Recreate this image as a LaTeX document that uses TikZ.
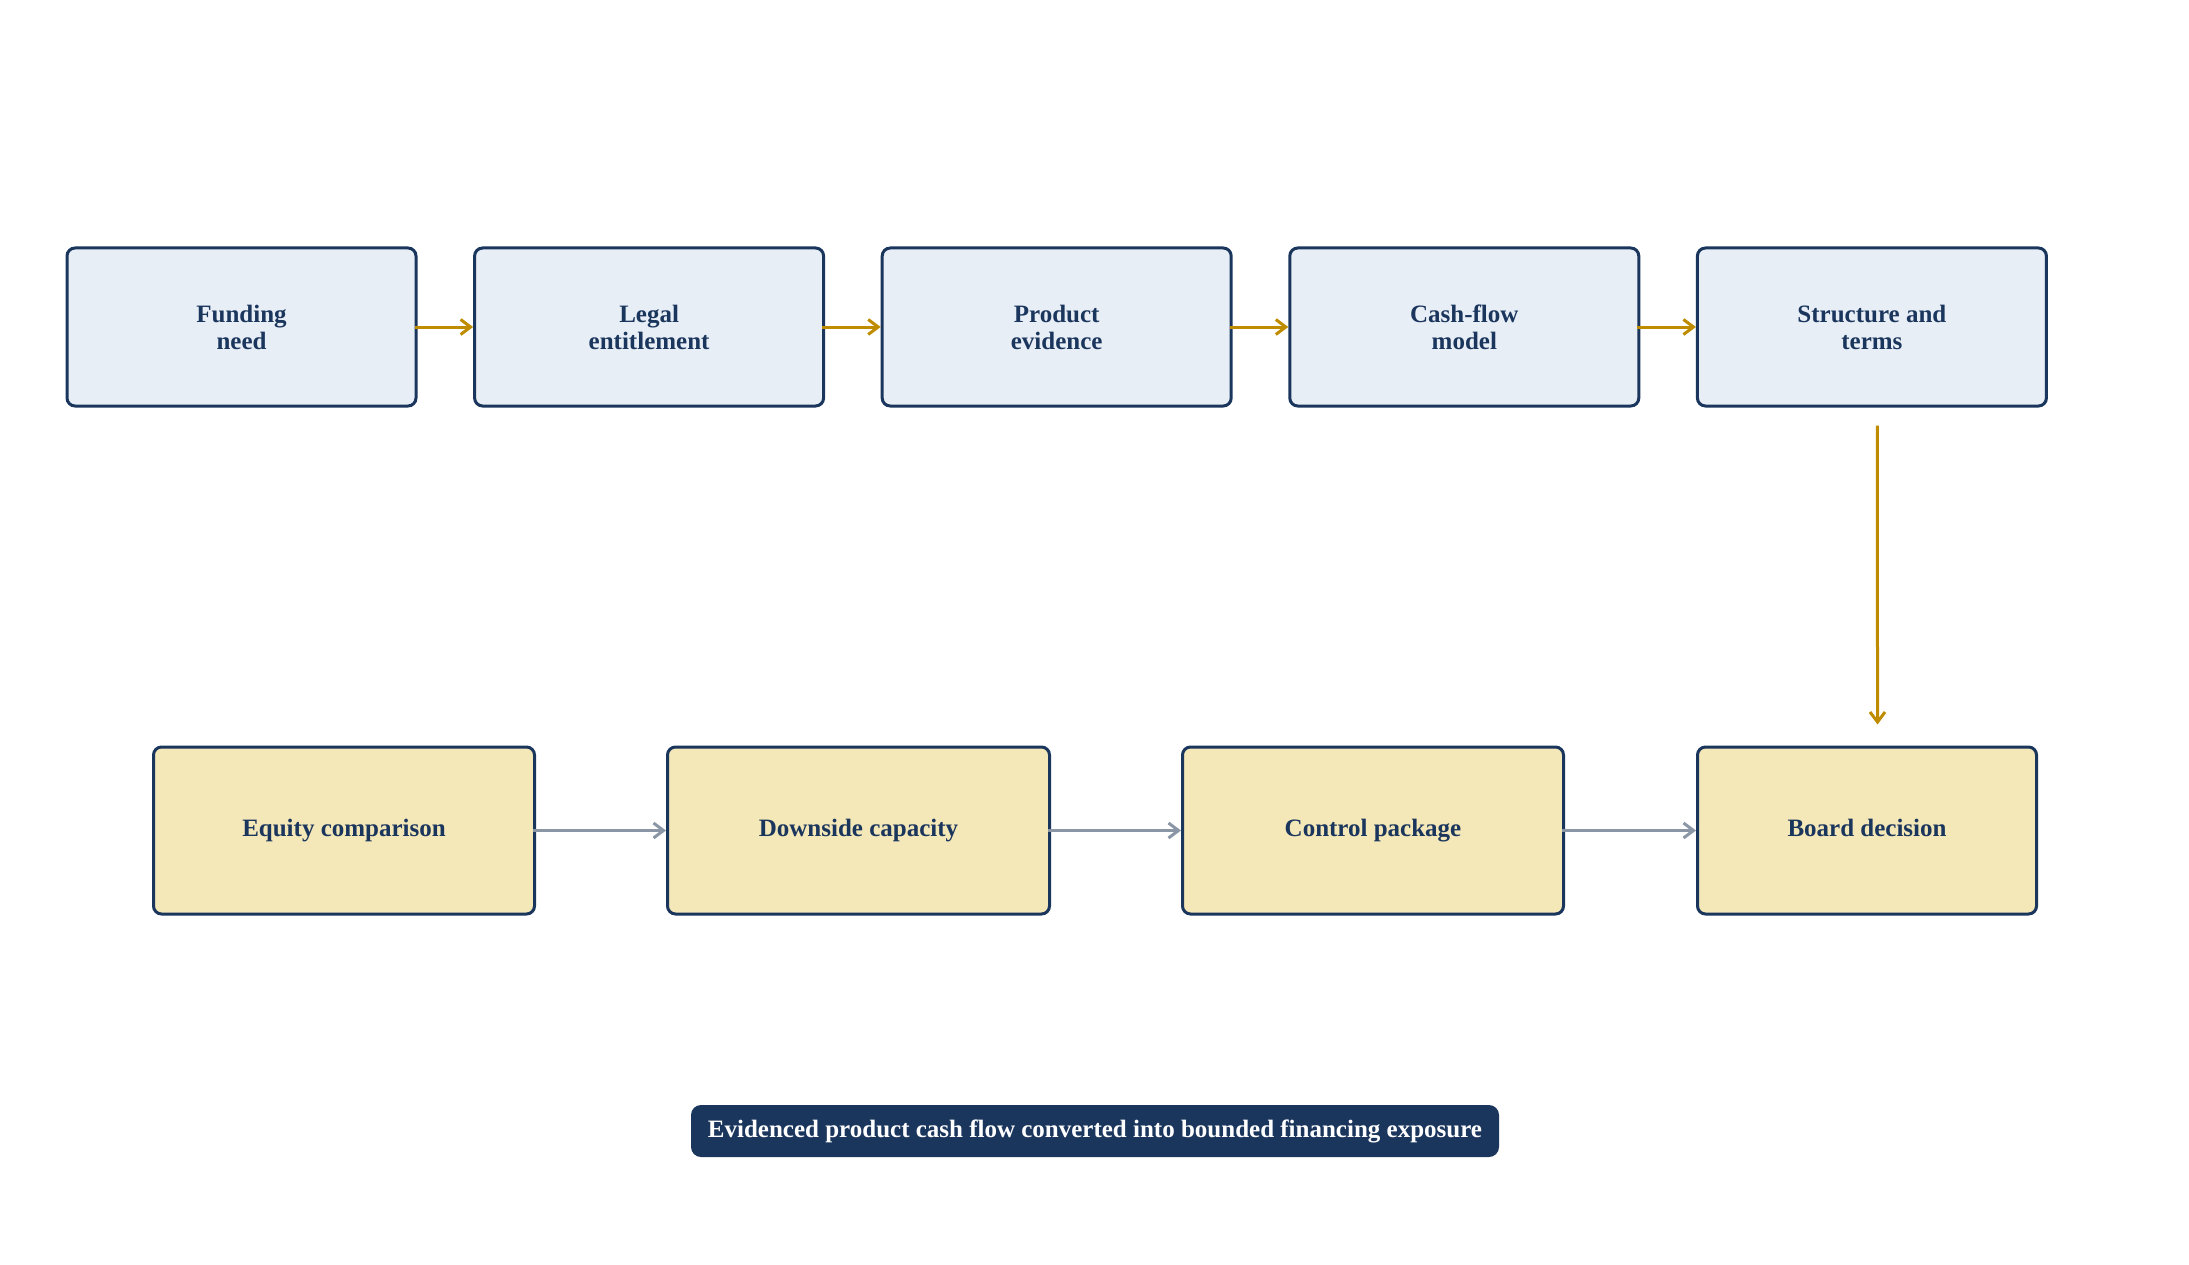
\documentclass[tikz,border=0pt]{standalone}
\usepackage{fontspec}
\setmainfont{Liberation Serif}
\usetikzlibrary{arrows.meta}
\definecolor{navy}{HTML}{1B365D}
\definecolor{paleblue}{HTML}{E8EEF6}
\definecolor{sand}{HTML}{F4E7B8}
\definecolor{gold}{HTML}{BF8C00}
\definecolor{slate}{HTML}{8A96A6}

\begin{document}
\begin{tikzpicture}[x=1pt,y=-1pt,>={Straight Barb[length=10pt,width=15pt]},
  stage/.style={draw=navy,line width=3pt,rounded corners=8pt,align=center,
    text=navy,font=\fontsize{25}{27}\selectfont\bfseries,minimum height=158pt},
  upper/.style={stage,fill=paleblue,minimum width=349pt},
  lower/.style={stage,fill=sand,minimum height=167pt,text height=17pt,text depth=6pt},
  goldline/.style={->,draw=gold,line width=3pt},
  slateline/.style={->,draw=slate,line width=3pt}]
\useasboundingbox (0,0) rectangle (2189,1265);
% top row
\foreach \n/\x/\t in {need/241.5/{Funding\\need},legal/649.1/{Legal\\entitlement},
  product/1056.7/{Product\\evidence},cash/1464.3/{Cash-flow\\model},
  terms/1871.9/{Structure and\\terms}}
  \node[upper] (\n) at (\x,327) {\t};
\foreach \a/\b in {need/legal,legal/product,product/cash,cash/terms}
  \draw[goldline,shorten <=-3pt] (\a) -- (\b);
% bottom row
\node[lower,minimum width=381pt] (equity) at (344,830.5) {Equity comparison};
\node[lower,minimum width=382pt] (downside) at (858.5,830.5) {Downside capacity};
\node[lower,minimum width=381pt] (control) at (1373,830.5) {Control package};
\node[lower,minimum width=339pt] (board) at (1867,830.5) {Board decision};
\foreach \a/\b in {equity/downside,downside/control,control/board}
  \draw[slateline,shorten <=-3pt] (\a) -- (\b);
\draw[goldline] ([xshift=5.5pt,yshift=-18pt]terms.south) -- ([xshift=10.5pt,yshift=21pt]board.north);
% caption
\node[fill=navy,rounded corners=10pt,text=white,font=\fontsize{25}{27}\selectfont\bfseries,
  minimum width=808pt,minimum height=52pt] (summary) at (1095,1131)
  {Evidenced product cash flow converted into bounded financing exposure};
\end{tikzpicture}
\end{document}
